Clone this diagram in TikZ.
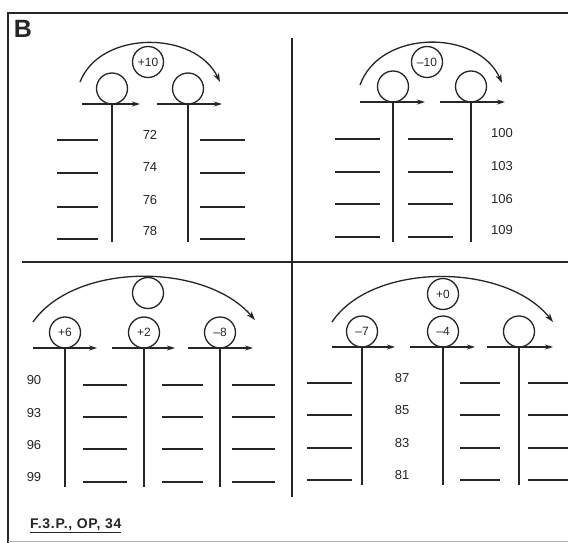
\documentclass[tikz,border=0pt]{standalone}
\usepackage{fontspec}
\setmainfont{Liberation Sans}
\usetikzlibrary{arrows.meta}
\definecolor{ink}{HTML}{262626}
\begin{document}
\begin{tikzpicture}[x=1pt,y=-1pt,
  frame/.style={draw=ink,line width=1.8pt},
  bubble/.style={circle,draw=ink,line width=1.3pt,minimum size=31pt,inner sep=0pt,font=\fontsize{12}{13}\selectfont,text=ink},
  num/.style={font=\fontsize{13}{14}\selectfont,text=ink,inner sep=0pt},
  axis/.style={draw=ink,line width=1.3pt,-{Stealth[length=8pt,width=5pt]}},
  jump/.style={draw=ink,line width=1.3pt,-{Stealth[length=9pt,width=6pt]}},
  blank/.style={draw=ink,line width=1.1pt},
  stem/.style={draw=ink,line width=1.4pt}]
\useasboundingbox (0,0) rectangle (568,543);
\fill[white] (0,0) rectangle (568,543);
% frame
\draw[frame] (568,13) -- (8,13) -- (8,543);
\draw[draw=ink!35,line width=0.8pt] (8,541) -- (568,541);
\draw[frame,line width=1.5pt] (22,262) -- (568,262);
\draw[frame,line width=1.5pt] (292,38) -- (292,497);
\node[font=\bfseries\fontsize{25}{26}\selectfont,text=ink] (lblB) at (23,29) {B};

% ===== top-left =====
\node[bubble] (tlop) at (148,62) {+10};
\node[bubble] (tla) at (112,88.5) {};
\node[bubble] (tlb) at (188,88.5) {};
\coordinate (tlj1) at (80,82); \coordinate (tlj2) at (220,82);
\draw[jump] (tlj1) .. controls (100,30) and (195,30) .. (tlj2);
\coordinate (tlx1) at (82,104); \coordinate (tlx2) at (140,104);
\coordinate (tlx3) at (157,104); \coordinate (tlx4) at (222,104);
\draw[axis] (tlx1) -- (tlx2);
\draw[axis] (tlx3) -- (tlx4);
\coordinate (tls1) at (112,242); \coordinate (tls2) at (188,242);
\draw[stem] (tla.south) -- (tls1);
\draw[stem] (tlb.south) -- (tls2);
\node[num] (n72) at (150,135) {72};
\node[num] (n74) at (150,167) {74};
\node[num] (n76) at (150,200) {76};
\node[num] (n78) at (150,231) {78};
\foreach \y in {140,173,207,239} {
  \draw[blank] (57,\y) -- (98,\y);
  \draw[blank] (200,\y) -- (245,\y);
}

% ===== top-right =====
\node[bubble] (trop) at (427,62) {–10};
\node[bubble] (tra) at (393,86.5) {};
\node[bubble] (trb) at (471,86.5) {};
\coordinate (trj1) at (360,85); \coordinate (trj2) at (502,83);
\draw[jump] (trj1) .. controls (380,29) and (478,29) .. (trj2);
\coordinate (trx1) at (360,102); \coordinate (trx2) at (425,102);
\coordinate (trx3) at (440,102); \coordinate (trx4) at (505,102);
\draw[axis] (trx1) -- (trx2);
\draw[axis] (trx3) -- (trx4);
\coordinate (trs1) at (393,242); \coordinate (trs2) at (471,242);
\draw[stem] (tra.south) -- (trs1);
\draw[stem] (trb.south) -- (trs2);
\node[num] (n100) at (502,133) {100};
\node[num] (n103) at (502,166) {103};
\node[num] (n106) at (502,199) {106};
\node[num] (n109) at (502,230) {109};
\foreach \y in {139,172,204,237} {
  \draw[blank] (335,\y) -- (380,\y);
  \draw[blank] (408,\y) -- (453,\y);
}

% ===== bottom-left =====
\node[bubble] (blop) at (148,293) {};
\node[bubble] (bla) at (65,332.5) {+6};
\node[bubble] (blb) at (144,332.5) {+2};
\node[bubble] (blc) at (220,332.5) {–8};
\coordinate (blj1) at (33,322); \coordinate (blj2) at (255,320);
\draw[jump] (blj1) .. controls (75,262) and (205,262) .. (blj2);
\coordinate (blx1) at (33,348); \coordinate (blx2) at (97,348);
\coordinate (blx3) at (112,348); \coordinate (blx4) at (175,348);
\coordinate (blx5) at (188,348); \coordinate (blx6) at (253,348);
\draw[axis] (blx1) -- (blx2);
\draw[axis] (blx3) -- (blx4);
\draw[axis] (blx5) -- (blx6);
\coordinate (bls1) at (65,487); \coordinate (bls2) at (144,487); \coordinate (bls3) at (220,487);
\draw[stem] (bla.south) -- (bls1);
\draw[stem] (blb.south) -- (bls2);
\draw[stem] (blc.south) -- (bls3);
\node[num] (n90) at (34,380) {90};
\node[num] (n93) at (34,413) {93};
\node[num] (n96) at (34,445) {96};
\node[num] (n99) at (34,477) {99};
\foreach \y in {385,417,449,482} {
  \draw[blank] (83,\y) -- (127,\y);
  \draw[blank] (162,\y) -- (203,\y);
  \draw[blank] (232,\y) -- (275,\y);
}
\node[font=\bfseries\fontsize{14}{15}\selectfont\addfontfeatures{LetterSpace=5},text=ink,anchor=west,inner sep=0pt] (src) at (30,526) {\underline{F.3.P., OP, 34}};

% ===== bottom-right =====
\node[bubble] (brop) at (443,294) {+0};
\node[bubble] (bra) at (362,331.5) {–7};
\node[bubble] (brb) at (443,331.5) {–4};
\node[bubble] (brc) at (519,331.5) {};
\coordinate (brj1) at (332,322); \coordinate (brj2) at (553,322);
\draw[jump] (brj1) .. controls (372,262) and (505,262) .. (brj2);
\coordinate (brx1) at (332,347); \coordinate (brx2) at (395,347);
\coordinate (brx3) at (410,347); \coordinate (brx4) at (475,347);
\coordinate (brx5) at (487,347); \coordinate (brx6) at (553,347);
\draw[axis] (brx1) -- (brx2);
\draw[axis] (brx3) -- (brx4);
\draw[axis] (brx5) -- (brx6);
\coordinate (brs1) at (362,485); \coordinate (brs2) at (443,485); \coordinate (brs3) at (519,485);
\draw[stem] (bra.south) -- (brs1);
\draw[stem] (brb.south) -- (brs2);
\draw[stem] (brc.south) -- (brs3);
\node[num] (n87) at (402,378) {87};
\node[num] (n85) at (402,410) {85};
\node[num] (n83) at (402,443) {83};
\node[num] (n81) at (402,475) {81};
\foreach \y in {383,415,448,480} {
  \draw[blank] (307,\y) -- (352,\y);
  \draw[blank] (460,\y) -- (500,\y);
  \draw[blank] (528,\y) -- (568,\y);
}
\end{tikzpicture}
\end{document}
